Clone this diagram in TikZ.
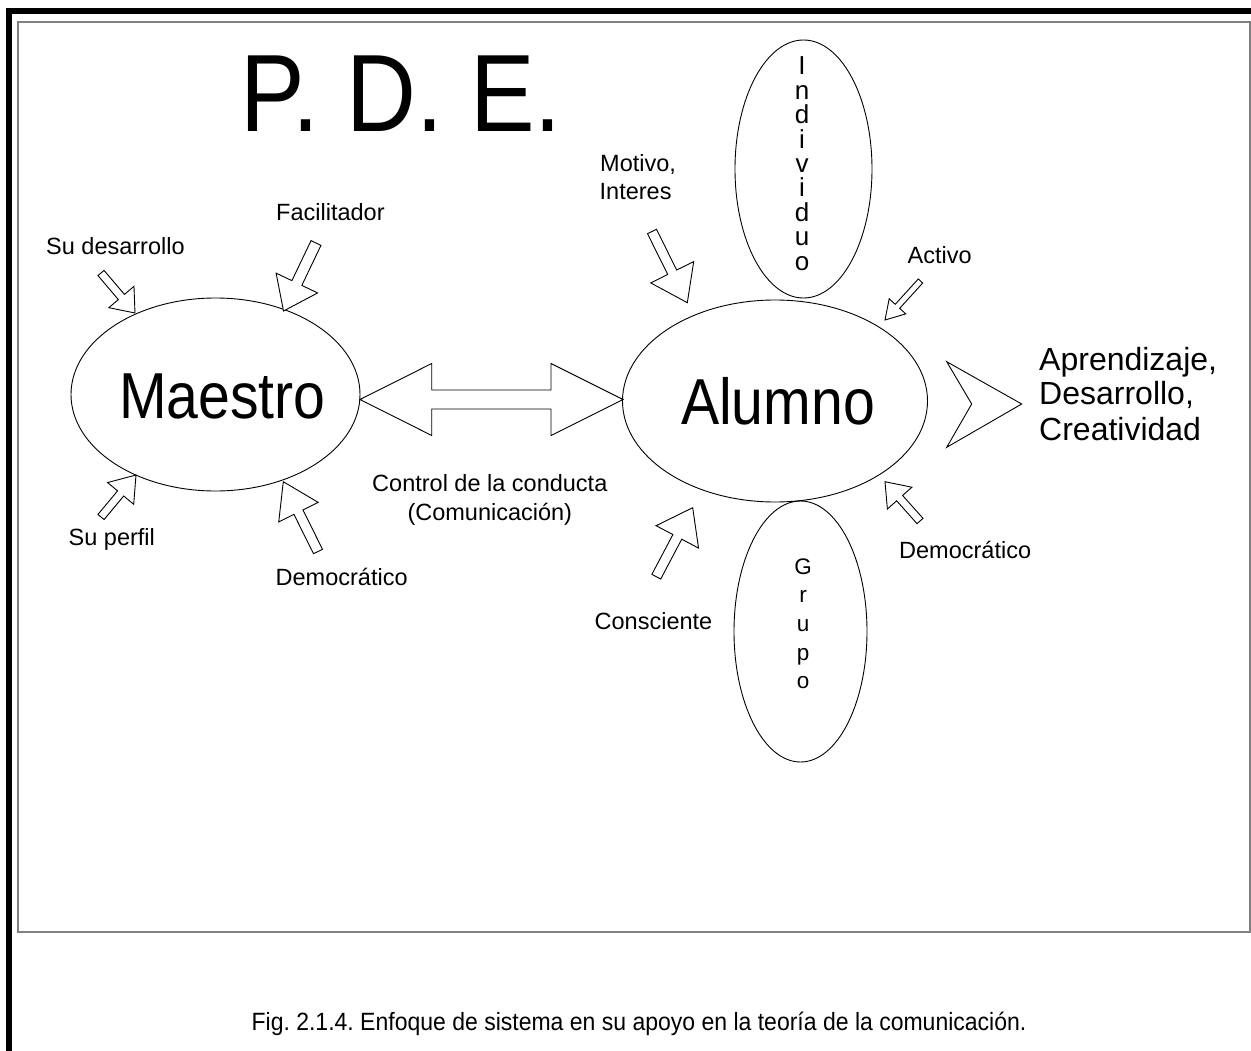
\documentclass[tikz,border=0pt]{standalone}
\usepackage{fontspec}
\setmainfont{Liberation Sans}
\newfontfamily\condfont[FakeStretch=0.88]{Liberation Sans}
\newfontfamily\capfont[FakeStretch=0.92]{Liberation Sans}
\usetikzlibrary{calc,shapes.geometric}
\frenchspacing
\tikzset{
  blockarrow/.style={draw, fill=white, line width=0.9pt, line join=miter},
  oval/.style={ellipse, draw, line width=0.9pt, inner sep=0pt},
  lbl/.style={inner sep=0pt, font=\fontsize{23.5}{28.5}\selectfont},
  biglbl/.style={inner sep=0pt, font=\condfont\fontsize{65}{70}\selectfont},
  sidelbl/.style={inner sep=0pt, font=\fontsize{32}{35}\selectfont},
}
% #1 tail, #2 tip, #3 shaft half width, #4 head length, #5 head half width
\newcommand\blkarrow[5]{%
  \coordinate (ba-m) at ($(#2)!#4pt!(#1)$);
  \draw[blockarrow] ($(#1)!#3pt!90:(#2)$) -- ($(ba-m)!#3pt!90:(#2)$) -- ($(ba-m)!#5pt!90:(#2)$) -- (#2)
     -- ($(ba-m)!#5pt!-90:(#2)$) -- ($(ba-m)!#3pt!-90:(#2)$) -- ($(#1)!#3pt!-90:(#2)$) -- cycle;
}
\begin{document}
\begin{tikzpicture}[x=1pt,y=-1pt]
\useasboundingbox (0,0) rectangle (1251,1051);
% frame
\fill[black] (6,8) rectangle (1251,14);
\fill[black] (6,8) rectangle (12,1051);
\draw[gray, line width=1.5pt] (18,22) rectangle (1250,932);

% title
\node[inner sep=0pt, anchor=base west, font=\condfont\fontsize{110}{120}\selectfont] (title) at (240.5,131.7) {P. D. E.};

% ellipses
\node[oval, minimum width=289pt, minimum height=193pt] (maestro) at (215.5,394.5) {};
\node[oval, minimum width=305pt, minimum height=202pt] (alumno) at (775,401) {};
\node[oval, minimum width=137pt, minimum height=258pt] (individuo) at (803.5,169) {};
\node[oval, minimum width=133pt, minimum height=261pt] (grupo) at (800.5,631.5) {};

\node[biglbl, anchor=base] (maestrotxt) at (222.4,418.3) {Maestro};
\node[biglbl, anchor=base] (alumnotxt) at (778,424) {Alumno};

% vertical words
\foreach \c [count=\i] in {I,n,d,i,v,i,d,u,o}
  \node[inner sep=0pt, anchor=base, font=\fontsize{26}{26}\selectfont] (ind\i) at (802,{75+24.4*(\i-1)}) {\c};
\foreach \c [count=\i] in {G,r,u,p,o}
  \node[inner sep=0pt, anchor=base, font=\fontsize{22.5}{22.5}\selectfont] (gru\i) at (803,{574+28.7*(\i-1)}) {\c};

% double arrow
\coordinate (dl) at (360,399.5);
\coordinate (dr) at (623,399.5);
\draw[blockarrow] (dl) -- ($(dl)+(71.7,-36)$) -- ($(dl)+(71.7,-9.5)$) -- ($(dr)+(-72,-9.5)$) -- ($(dr)+(-72,-36)$) -- (dr)
  -- ($(dr)+(-72,36)$) -- ($(dr)+(-72,9.5)$) -- ($(dl)+(71.7,9.5)$) -- ($(dl)+(71.7,36)$) -- cycle;

% chevron
\coordinate (chtip) at (1021.7,404);
\draw[blockarrow] (946.7,361.7) -- (chtip) -- (946.7,447.3) -- (971.7,404) -- cycle;

% small block arrows
\coordinate (t1) at (101,273);   \coordinate (h1) at (135,313);
\coordinate (t2) at (316,243);   \coordinate (h2) at (283.5,311);
\coordinate (t3) at (101,517);   \coordinate (h3) at (136,475);
\coordinate (t4) at (318,551.5); \coordinate (h4) at (283.3,481.7);
\coordinate (t5) at (652,231.5); \coordinate (h5) at (687.3,302.7);
\coordinate (t6) at (920.5,281); \coordinate (h6) at (885,320);
\coordinate (t7) at (656.3,576.7); \coordinate (h7) at (692.7,507.7);
\coordinate (t8) at (920,521);   \coordinate (h8) at (885,481.7);
\blkarrow{t1}{h1}{4}{21}{16.5}
\blkarrow{t2}{h2}{5.5}{31}{23}
\blkarrow{t3}{h3}{4}{24}{17}
\blkarrow{t4}{h4}{5}{34}{22}
\blkarrow{t5}{h5}{5}{34}{24}
\blkarrow{t6}{h6}{3}{18.5}{11.2}
\blkarrow{t7}{h7}{5}{33}{24}
\blkarrow{t8}{h8}{4}{22}{16.4}

% labels
\node[lbl, anchor=base west] (l1) at (46,255) {Su desarrollo};
\node[lbl, anchor=base west] (l2) at (276,220.7) {Facilitador};
\node[lbl, anchor=base west] (l3) at (68.5,545) {Su perfil};
\node[lbl, anchor=base west] (l4) at (275.5,585) {Democrático};
\node[lbl, anchor=base west] (l5a) at (600,171.7) {Motivo,};
\node[lbl, anchor=base west] (l5b) at (599.5,200) {Interes};
\node[lbl, anchor=base west] (l6) at (907.5,263.3) {Activo};
\node[lbl, anchor=base west] (l7) at (594.5,629.3) {Consciente};
\node[lbl, anchor=base west] (l8) at (899,558.3) {Democrático};
\node[lbl, anchor=base] (c1) at (489.8,491.7) {Control de la conducta};
\node[lbl, anchor=base] (c2) at (489.8,520) {(Comunicación)};
\node[sidelbl, anchor=base west] (s1) at (1039,370) {Aprendizaje,};
\node[sidelbl, anchor=base west] (s2) at (1039,404) {Desarrollo,};
\node[sidelbl, anchor=base west] (s3) at (1039,440) {Creatividad};

% caption
\node[inner sep=0pt, anchor=base, font=\capfont\fontsize{25}{28}\selectfont] (caption) at (639,1030) {Fig. 2.1.4. Enfoque de sistema en su apoyo en la teoría de la comunicación.};
\end{tikzpicture}
\end{document}
